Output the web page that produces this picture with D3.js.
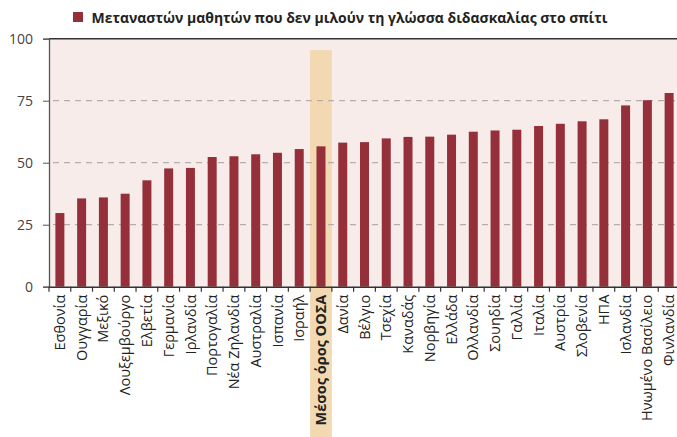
<!DOCTYPE html>
<html>
<head>
<meta charset="utf-8">
<script src="https://cdn.jsdelivr.net/npm/d3@7"></script>
<style>
  body { margin: 0; background: #fff; }
  svg { display: block; }
</style>
</head>
<body>
<svg id="chart" width="677" height="437"></svg>
<script>
// data
const countries = [
  "Εσθονία", "Ουγγαρία", "Μεξικό", "Λουξεμβούργο", "Ελβετία", "Γερμανία",
  "Ιρλανδία", "Πορτογαλία", "Νέα Ζηλανδία", "Αυστραλία", "Ισπανία", "Ισραήλ",
  "Μέσος όρος ΟΟΣΑ", "Δανία", "Βέλγιο", "Τσεχία", "Καναδάς", "Νορβηγία",
  "Ελλάδα", "Ολλανδία", "Σουηδία", "Γαλλία", "Ιταλία", "Αυστρία", "Σλοβενία",
  "ΗΠΑ", "Ισλανδία", "Ηνωμένο Βασίλειο", "Φινλανδία"
];
const values = [
  29.7, 35.6, 36.0, 37.5, 42.9, 47.7, 47.9, 52.3, 52.6, 53.4, 54.0, 55.5,
  56.6, 58.1, 58.3, 59.8, 60.4, 60.5, 61.3, 62.5, 63.0, 63.3, 64.8, 65.7,
  66.7, 67.5, 73.1, 75.2, 78.1
];
const yTicks = [0, 25, 50, 75, 100];
const highlight = "Μέσος όρος ΟΟΣΑ";
const highlightTop = 95.4;
const legendLabel = "Μεταναστών μαθητών που δεν μιλούν τη γλώσσα διδασκαλίας στο σπίτι";

const svg = d3.select("#chart");
const m = { left: 49, right: 680, top: 38.7, bottom: 286.7 };
const font = "'Open Sans', sans-serif";

const x = d3.scaleBand().domain(countries).range([m.left, m.right]).paddingInner(0);
const y = d3.scaleLinear().domain([0, 100]).range([m.bottom, m.top]);

// plot background
svg.append("rect")
  .attr("x", m.left).attr("y", m.top)
  .attr("width", 677 - m.left).attr("height", m.bottom - m.top)
  .attr("fill", "#f7ecea");

// highlight band behind OECD average
svg.append("rect")
  .attr("x", x(highlight)).attr("y", y(highlightTop))
  .attr("width", x.bandwidth()).attr("height", 437 - y(highlightTop))
  .attr("fill", "#f3d9b1");

// grid lines
svg.append("g")
  .selectAll("line")
  .data(yTicks.filter(d => d > 0 && d < 100))
  .join("line")
  .attr("x1", m.left + 4).attr("x2", 677)
  .attr("y1", d => y(d)).attr("y2", d => y(d))
  .attr("stroke", "#b5aeac").attr("stroke-width", 1.2)
  .attr("stroke-dasharray", "6,5");

// bars
const barW = 9;
svg.append("g")
  .selectAll("rect")
  .data(values)
  .join("rect")
  .attr("x", (d, i) => x(countries[i]) + (x.bandwidth() - barW) / 2)
  .attr("y", d => y(d))
  .attr("width", barW)
  .attr("height", d => y(0) - y(d))
  .attr("fill", "#95303b");

// top border
svg.append("line")
  .attr("x1", m.left).attr("x2", 677)
  .attr("y1", m.top).attr("y2", m.top)
  .attr("stroke", "#333").attr("stroke-width", 1.5);

// y axis
const yAxis = svg.append("g")
  .attr("transform", `translate(${m.left},0)`)
  .call(d3.axisLeft(y).tickValues(yTicks).tickSize(6).tickPadding(10));
yAxis.select(".domain").attr("stroke", "#555").attr("stroke-width", 1.3);
yAxis.selectAll(".tick line").attr("stroke", "#555");
yAxis.selectAll("text")
  .attr("font-family", font).attr("font-size", 14).attr("fill", "#444");

// x axis
const xAxis = svg.append("g")
  .attr("transform", `translate(0,${m.bottom})`)
  .call(d3.axisBottom(x).tickSize(0).tickFormat(d => d));
xAxis.select(".domain").attr("stroke", "#333").attr("stroke-width", 1.5);
xAxis.selectAll(".tick text")
  .attr("transform", "rotate(-90)")
  .attr("x", -8).attr("y", 0).attr("dy", "0.35em")
  .attr("text-anchor", "end")
  .attr("font-family", font).attr("font-size", 14.5).attr("fill", "#222")
  .attr("font-weight", d => d === highlight ? "bold" : "normal");

// boundary ticks between categories
svg.append("g")
  .selectAll("line")
  .data(d3.range(countries.length + 1))
  .join("line")
  .attr("x1", i => m.left + i * x.step()).attr("x2", i => m.left + i * x.step())
  .attr("y1", m.bottom).attr("y2", m.bottom + 5)
  .attr("stroke", "#333").attr("stroke-width", 1.2);

// legend
svg.append("rect")
  .attr("x", 73).attr("y", 12).attr("width", 10).attr("height", 10)
  .attr("fill", "#95303b");
svg.append("text")
  .attr("x", 91.5).attr("y", 22.5)
  .attr("font-family", font).attr("font-size", 14.5).attr("font-weight", "bold")
  .attr("fill", "#222")
  .attr("textLength", 516).attr("lengthAdjust", "spacingAndGlyphs")
  .text(legendLabel);
</script>
</body>
</html>
